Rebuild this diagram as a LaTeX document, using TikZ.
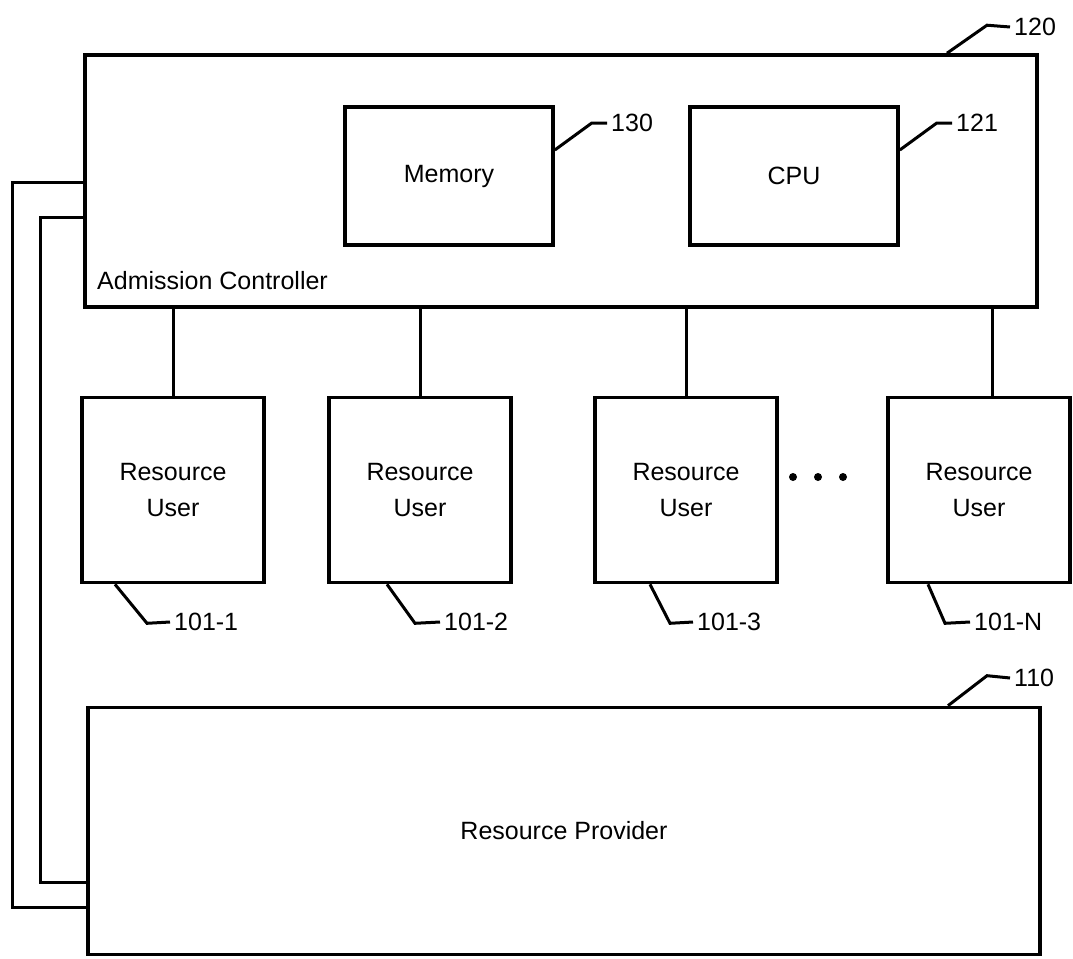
\documentclass[tikz,border=0pt]{standalone}
\usepackage{fontspec}
\setmainfont{Liberation Sans}
\usetikzlibrary{positioning}
\usetikzlibrary{calc}

\begin{document}
\begin{tikzpicture}[x=1pt, y=-1pt,
        every node/.style={font=\fontsize{25}{36}\selectfont},
        box/.style={draw, line width=3.6pt, inner sep=0pt, align=center},
        ru/.style={box, minimum width=182pt, minimum height=185pt},
        wire/.style={line width=3pt},
        lead/.style={line width=3pt},
        num/.style={anchor=west, inner sep=4pt}]
        \useasboundingbox (0,0) rectangle (1073,958);

        \node[box, minimum width=952pt, minimum height=252pt] (ac) at (561,181) {};
        \node[anchor=west, inner sep=0pt] (actext) at (97,281) {Admission Controller};
        \node[box, minimum width=208pt, minimum height=138pt] (mem) at (449,176) {Memory};
        \node[box, minimum width=208pt, minimum height=138pt] (cpu) at (794,176) {CPU};

        \node[ru] (ru1) at (173,490) {Resource\\User};
        \node[ru] (ru2) at (420,490) {Resource\\User};
        \node[ru] (ru3) at (686,490) {Resource\\User};
        \node[ru] (ruN) at (979,490) {Resource\\User};

        \node[box, minimum width=952pt, minimum height=247pt] (rp) at (564,831) {Resource Provider};

        % reference numerals
        \node[num] (n120) at (1010,27) {120};
        \node[num] (n130) at (607,123) {130};
        \node[num] (n121) at (952,123) {121};
        \node[num] (n1011) at (170,622) {101-1};
        \node[num] (n1012) at (440,622) {101-2};
        \node[num] (n1013) at (693,622) {101-3};
        \node[num] (n101N) at (970,622) {101-N};
        \node[num] (n110) at (1010,678) {110};

        \draw[lead] ([xshift=386pt]ac.north) -- ++(40,-28) -- (n120.west);
        \draw[lead] ([yshift=26pt]mem.east) -- ++(37,-27) -- (n130.west);
        \draw[lead] ([yshift=26pt]cpu.east) -- ++(37,-27) -- (n121.west);
        \draw[lead] ([xshift=-58pt]ru1.south) -- ++(32,39) -- (n1011.west);
        \draw[lead] ([xshift=-33pt]ru2.south) -- ++(28,39) -- (n1012.west);
        \draw[lead] ([xshift=-36pt]ru3.south) -- ++(20,39) -- (n1013.west);
        \draw[lead] ([xshift=-51pt]ruN.south) -- ++(17,39) -- (n101N.west);
        \draw[lead] ([xshift=384pt]rp.north) -- ++(39,-30) -- (n110.west);

        % users hang off the controller
        \draw[wire] (ru1.north) -- (ru1.north |- ac.south);
        \draw[wire] (ru2.north) -- (ru2.north |- ac.south);
        \draw[wire] (ru3.north) -- (ru3.north |- ac.south);
        \draw[wire] ([xshift=13pt]ruN.north) -- ([xshift=13pt]ruN.north |- ac.south);

        \fill (793,477) circle (4) (818,477) circle (4) (843,477) circle (4);

        % the two lines round the left side
        \coordinate (o1) at (12,182);
        \coordinate (o2) at (12,907);
        \coordinate (i1) at (40,217);
        \coordinate (i2) at (40,882);
        \draw[wire] (ac.west |- o1) -- (o1) -- (o2) -- (rp.west |- o2);
        \draw[wire] (ac.west |- i1) -- (i1) -- (i2) -- (rp.west |- i2);
    \end{tikzpicture}
\end{document}
